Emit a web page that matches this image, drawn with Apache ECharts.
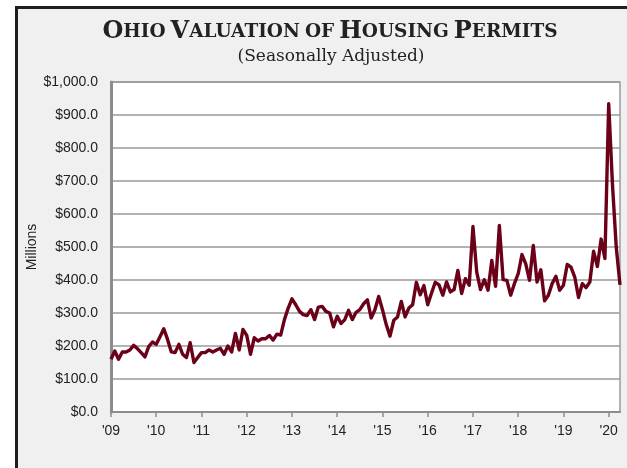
<html>
<head>
    <meta charset="utf-8">
    <title>Ohio Valuation of Housing Permits</title>
    <script src="https://cdn.jsdelivr.net/npm/echarts@6/dist/echarts.min.js"></script>
    <style>
        body { margin: 0; background: #fff; }
        #frame { position: absolute; left: 15px; top: 6px; width: 700px; height: 600px;
                 border: 3px solid #1e1e1e; background: #f0f0f0; }
        #main { position: absolute; left: 0; top: 0; width: 627px; height: 468px; }
    </style>
</head>
<body>
    <div id="frame"></div>
    <div id="main"></div>
</body>
<script type="text/javascript">
    // monthly values, Jan 2009 .. Apr 2020 (millions of dollars)
    var valuation = [
        160, 185, 160, 182, 182, 188, 202, 192, 180, 167, 198, 212,
        205, 228, 252, 220, 182, 180, 205, 175, 165, 210, 150, 165,
        180, 180, 188, 182, 188, 193, 175, 200, 182, 238, 188, 250,
        232, 175, 225, 215, 222, 222, 232, 218, 236, 233, 280, 315,
        343, 325, 305, 295, 292, 310, 280, 318, 320, 305, 300, 258,
        290, 268, 280, 308, 280, 302, 310, 328, 340, 285, 310, 350,
        310, 265, 230, 278, 288, 335, 288, 315, 325, 393, 355, 383,
        325, 360, 393, 385, 354, 394, 364, 371, 429, 359, 404, 384,
        562, 424, 371, 401, 369, 459, 381, 565, 401, 399, 354, 389,
        419, 477, 449, 399, 505, 394, 431, 337, 354, 389, 411, 369,
        384, 447, 439, 409, 347, 389, 377, 394, 487, 441, 524, 465,
        934, 690, 500, 385
    ];
    var startYear = 2009;
    var months = [];
    for (var i = 0; i < valuation.length; i++) {
        var y = startYear + Math.floor(i / 12), m = i % 12 + 1;
        months.push(y + '-' + (m < 10 ? '0' + m : m));
    }

    function isJan(index) { return index % 12 === 0; }

    var myChart = echarts.init(document.getElementById('main'));
    var option = {
        animation: false,
        title: [{
            text: '{b|O}{s|HIO} {b|V}{s|ALUATION} {s|OF} {b|H}{s|OUSING} {b|P}{s|ERMITS}',
            left: 325, top: 15, textAlign: 'center',
            textStyle: {
                rich: {
                    b: { fontFamily: 'DejaVu Serif', fontWeight: 'bold', fontSize: 24, color: '#222' },
                    s: { fontFamily: 'DejaVu Serif', fontWeight: 'bold', fontSize: 18.5, color: '#222' }
                }
            }
        }, {
            text: '(Seasonally Adjusted)',
            left: 326, top: 43, textAlign: 'center',
            textStyle: { fontFamily: 'DejaVu Serif', fontWeight: 'normal', fontSize: 17, color: '#222' }
        }],
        grid: {
            left: 111, right: 7, top: 82, bottom: 56,
            show: true, backgroundColor: '#fff', borderColor: '#9a9a9a', borderWidth: 1.5
        },
        xAxis: {
            type: 'category',
            data: months,
            boundaryGap: false,
            axisLine: { lineStyle: { color: '#8c8c8c', width: 2 } },
            axisTick: { interval: isJan, length: 5, lineStyle: { color: '#8c8c8c', width: 1.5 } },
            axisLabel: {
                interval: isJan, margin: 12,
                fontFamily: 'Liberation Sans', fontSize: 14, color: '#222',
                formatter: function (v) { return "'" + v.substr(2, 2); }
            }
        },
        yAxis: {
            type: 'value',
            min: 0, max: 1000, interval: 100,
            name: 'Millions',
            nameLocation: 'middle',
            nameGap: 72,
            nameMoveOverlap: false,
            nameTextStyle: { fontFamily: 'Liberation Sans', fontSize: 14, color: '#222' },
            axisLine: { show: true, lineStyle: { color: '#8c8c8c', width: 3 } },
            axisTick: { show: false },
            splitLine: { lineStyle: { color: '#9a9a9a', width: 1.5 } },
            axisLabel: {
                margin: 13,
                fontFamily: 'Liberation Sans', fontSize: 14, color: '#222',
                formatter: function (v) {
                    return '$' + v.toLocaleString('en-US', { minimumFractionDigits: 1, maximumFractionDigits: 1 });
                }
            }
        },
        series: [{
            name: 'Valuation',
            type: 'line',
            data: valuation,
            showSymbol: false,
            lineStyle: { color: '#6b0019', width: 3.4, join: 'round' }
        }]
    };
    myChart.setOption(option);
</script>
</html>
